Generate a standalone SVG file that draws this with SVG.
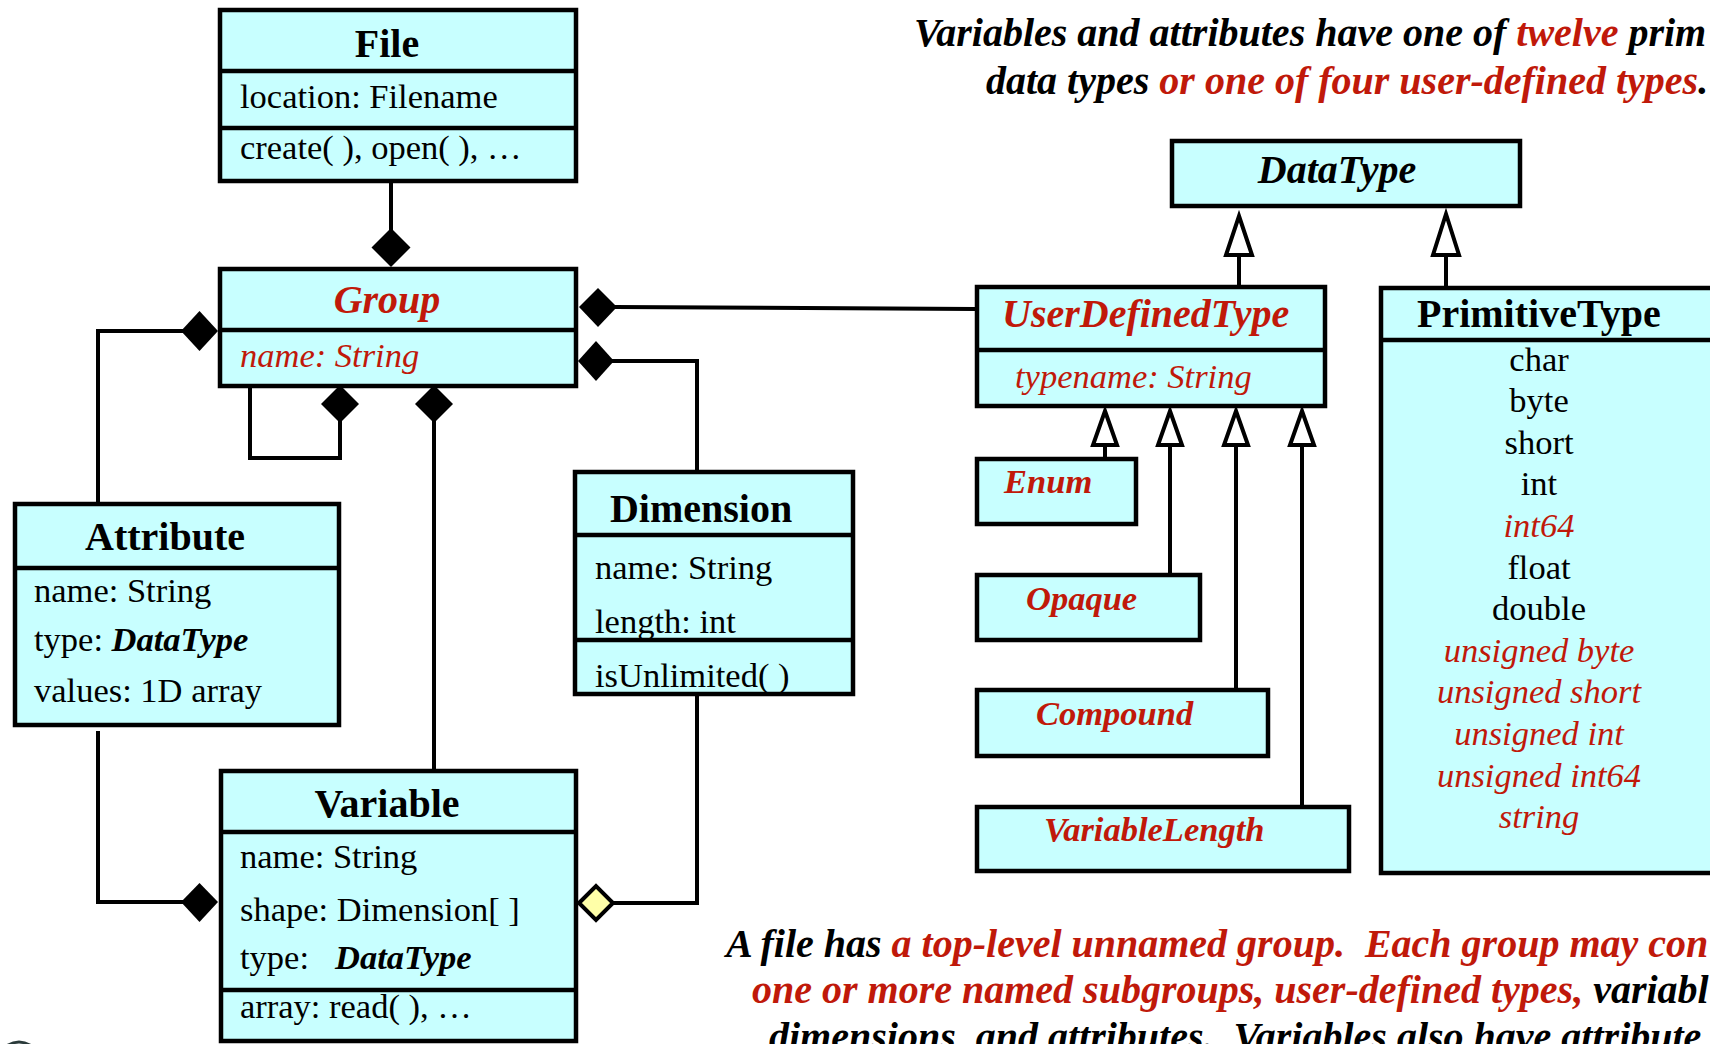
<svg xmlns="http://www.w3.org/2000/svg" width="1710" height="1044" viewBox="0 0 1710 1044">
<style>
  .box { fill: #c8ffff; stroke: #000; stroke-width: 4.5; }
  .div { stroke: #000; stroke-width: 4.5; fill: none; }
  .ln { stroke: #000; stroke-width: 4; fill: none; }
  .dia { fill: #000; stroke: none; }
  .odia { fill: #ffffa8; stroke: #000; stroke-width: 4; }
  .tri { fill: #fff; stroke: #000; stroke-width: 4; stroke-linejoin: miter; }
  text { font-family: "Liberation Serif", "Times New Roman", serif; fill: #000; }
  .hd { font-size: 40px; font-weight: bold; }
  .hdi { font-size: 40px; font-weight: bold; font-style: italic; }
  .sub { font-size: 34.5px; font-weight: bold; font-style: italic; fill: #c0190a; }
  .bd { font-size: 34.5px; }
  .it { font-style: italic; }
  .red { fill: #c0190a; }
  .bi { font-weight: bold; font-style: italic; }
  .cap { font-size: 40px; font-weight: bold; font-style: italic; }
  .mid { text-anchor: middle; }
</style>

<g id="connectors">
  <!-- File to Group -->
  <path class="ln" d="M391 181 V230"/>
  <path class="dia" d="M391 228 L410.5 247.5 L391 267 L371.5 247.5 Z"/>
  <!-- Group to Attribute -->
  <path class="ln" d="M183 331 H98 V503"/>
  <path class="dia" d="M218 331 L199.5 351 L181 331 L199.5 311 Z"/>
  <!-- Group self loop -->
  <path class="ln" d="M250 386 V458 H340 V420"/>
  <path class="dia" d="M340 385 L359 404 L340 423 L321 404 Z"/>
  <!-- Group to Variable -->
  <path class="ln" d="M434 420 V769"/>
  <path class="dia" d="M434 385 L453 404 L434 423 L415 404 Z"/>
  <!-- Group to UserDefinedType -->
  <path class="ln" d="M615 307 L975 309"/>
  <path class="dia" d="M579 307 L598 288 L617 307 L598 327 Z"/>
  <!-- Group to Dimension -->
  <path class="ln" d="M612 361 H697 V471"/>
  <path class="dia" d="M578 361 L596 341 L614 361 L596 381 Z"/>
  <!-- Attribute to Variable -->
  <path class="ln" d="M98 731 V902 H183"/>
  <path class="dia" d="M218 902 L199.5 922 L181 902 L199.5 883 Z"/>
  <!-- Dimension to Variable -->
  <path class="ln" d="M697 696 V903 H613"/>
  <path class="odia" d="M579 903 L596 886 L613 903 L596 920 Z"/>
  <!-- Generalizations to DataType -->
  <path class="ln" d="M1239 285 V255"/>
  <path class="tri" d="M1239 216 L1252 255 L1226 255 Z"/>
  <path class="ln" d="M1446 286 V255"/>
  <path class="tri" d="M1446 214 L1459 255 L1433 255 Z"/>
  <!-- Generalizations to UserDefinedType -->
  <path class="ln" d="M1105 457 V445"/>
  <path class="tri" d="M1105 411 L1117 445 L1093 445 Z"/>
  <path class="ln" d="M1170 573 V445"/>
  <path class="tri" d="M1170 411 L1182 445 L1158 445 Z"/>
  <path class="ln" d="M1236 688 V445"/>
  <path class="tri" d="M1236 411 L1248 445 L1224 445 Z"/>
  <path class="ln" d="M1302 805 V445"/>
  <path class="tri" d="M1302 411 L1314 445 L1290 445 Z"/>
</g>

<g id="File">
  <rect class="box" x="220" y="10" width="356" height="171"/>
  <path class="div" d="M220 71 H576 M220 128 H576"/>
  <text class="hd mid" x="387" y="57">File</text>
  <text class="bd" x="240" y="108">location: Filename</text>
  <text class="bd" x="240" y="159">create( ), open( ), …</text>
</g>

<g id="Group">
  <rect class="box" x="220" y="269" width="356" height="117"/>
  <path class="div" d="M220 330 H576"/>
  <text class="hdi mid red" x="387" y="313">Group</text>
  <text class="bd it red" x="240" y="367">name: String</text>
</g>

<g id="Attribute">
  <rect class="box" x="15" y="504" width="324" height="221"/>
  <path class="div" d="M15 568 H339"/>
  <text class="hd mid" x="165" y="550">Attribute</text>
  <text class="bd" x="34" y="602">name: String</text>
  <text class="bd" x="34" y="651">type: <tspan class="bi">DataType</tspan></text>
  <text class="bd" x="34" y="702">values: 1D array</text>
</g>

<g id="Variable">
  <rect class="box" x="221" y="771" width="355" height="270"/>
  <path class="div" d="M221 832 H576 M221 990 H576"/>
  <text class="hd mid" x="387" y="817">Variable</text>
  <text class="bd" x="240" y="868">name: String</text>
  <text class="bd" x="240" y="921">shape: Dimension[ ]</text>
  <text class="bd" x="240" y="969">type:</text>
  <text class="bd bi" x="335" y="969">DataType</text>
  <text class="bd" x="240" y="1018">array: read( ), …</text>
</g>

<g id="Dimension">
  <rect class="box" x="575" y="472" width="278" height="222"/>
  <path class="div" d="M575 535 H853 M575 640 H853"/>
  <text class="hd mid" x="701" y="522">Dimension</text>
  <text class="bd" x="595" y="579">name: String</text>
  <text class="bd" x="595" y="633">length: int</text>
  <text class="bd" x="595" y="687">isUnlimited( )</text>
</g>

<g id="DataType">
  <rect class="box" x="1172" y="141" width="348" height="65"/>
  <text class="hdi mid" x="1337" y="183">DataType</text>
</g>

<g id="UserDefinedType">
  <rect class="box" x="977" y="287" width="348" height="119"/>
  <path class="div" d="M977 350 H1325"/>
  <text class="hdi red" x="1002" y="327">UserDefinedType</text>
  <text class="bd it red" x="1015" y="388">typename: String</text>
</g>

<g id="PrimitiveType">
  <rect class="box" x="1381" y="288" width="340" height="585"/>
  <path class="div" d="M1381 340 H1712"/>
  <text class="hd" x="1417" y="327">PrimitiveType</text>
  <text class="bd mid" x="1539" y="371">char</text>
  <text class="bd mid" x="1539" y="412">byte</text>
  <text class="bd mid" x="1539" y="454">short</text>
  <text class="bd mid" x="1539" y="495">int</text>
  <text class="bd mid it red" x="1539" y="537">int64</text>
  <text class="bd mid" x="1539" y="579">float</text>
  <text class="bd mid" x="1539" y="620">double</text>
  <text class="bd mid it red" x="1539" y="662">unsigned byte</text>
  <text class="bd mid it red" x="1539" y="703">unsigned short</text>
  <text class="bd mid it red" x="1539" y="745">unsigned int</text>
  <text class="bd mid it red" x="1539" y="787">unsigned int64</text>
  <text class="bd mid it red" x="1539" y="828">string</text>
</g>

<g id="Enum">
  <rect class="box" x="977" y="459" width="159" height="65"/>
  <text class="sub" x="1004" y="493">Enum</text>
</g>

<g id="Opaque">
  <rect class="box" x="977" y="575" width="223" height="65"/>
  <text class="sub" x="1026" y="610">Opaque</text>
</g>

<g id="Compound">
  <rect class="box" x="977" y="690" width="291" height="66"/>
  <text class="sub" x="1036" y="725">Compound</text>
</g>

<g id="VariableLength">
  <rect class="box" x="977" y="807" width="372" height="64"/>
  <text class="sub" x="1044" y="841">VariableLength</text>
</g>

<g id="captions">
  <text class="cap" x="914" y="46" xml:space="preserve">Variables and attributes have one of <tspan class="red">twelve</tspan> prim</text>
  <text class="cap" x="986" y="94" xml:space="preserve">data types <tspan class="red">or one of four user-defined types</tspan>.</text>
  <text class="cap" x="726" y="957" xml:space="preserve">A file has <tspan class="red">a top-level unnamed group.  Each group may con</tspan></text>
  <text class="cap" x="752" y="1003" xml:space="preserve"><tspan class="red">one or more named subgroups, user-defined types,</tspan> variabl</text>
  <text class="cap" x="769" y="1050" xml:space="preserve">dimensions, and attributes.  Variables also have attribute</text>
</g>

<path d="M5 1047 Q19 1037 33 1047" stroke="#2a3a3a" stroke-width="3" fill="none"/>
</svg>
